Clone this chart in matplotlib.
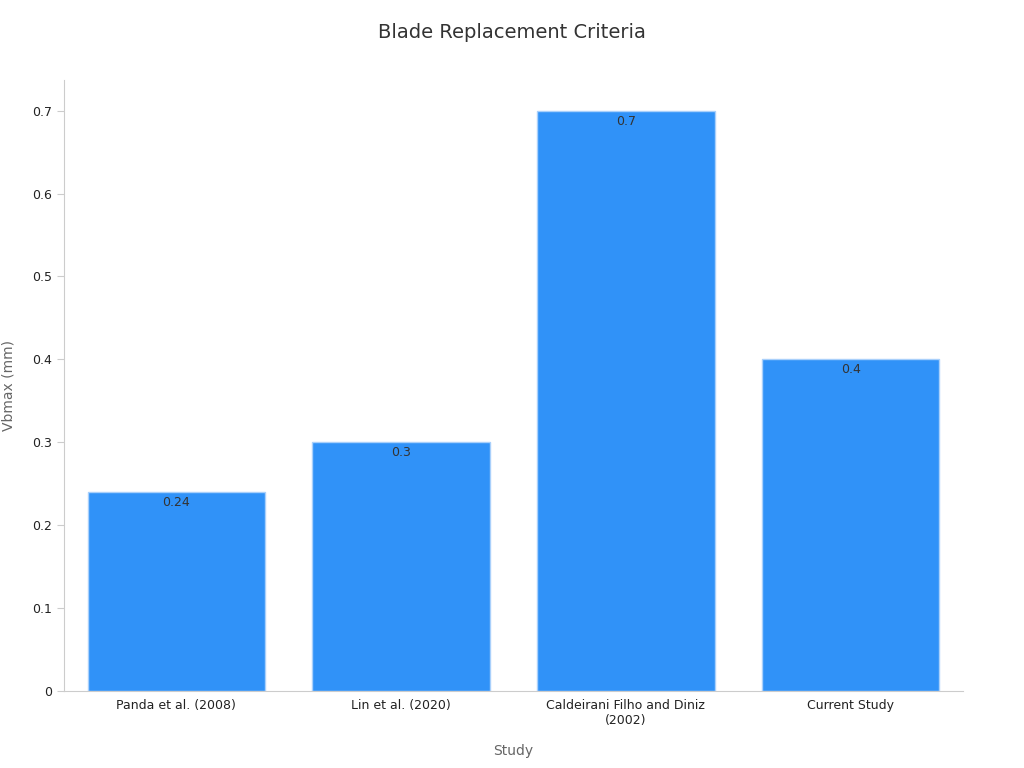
import matplotlib
matplotlib.use("Agg")
import matplotlib.pyplot as plt

studies = ["Panda et al. (2008)", "Lin et al. (2020)", "Caldeirani Filho and Diniz\n(2002)", "Current Study"]
vbmax = [0.24, 0.3, 0.7, 0.4]
value_labels = ["0.24", "0.3", "0.7", "0.4"]

fig = plt.figure(figsize=(10.24, 7.68), dpi=100)
ax = fig.add_axes([0.0625, 0.1003, 0.8779, 0.7956])

x = range(len(studies))
ax.bar(x, vbmax, width=0.79, color="#3092F8", edgecolor="#a9d0fb", linewidth=1)
for xi, v, lab in zip(x, vbmax, value_labels):
    ax.text(xi, v - 0.005, lab, ha="center", va="top", fontsize=9, color="#333333")

ax.set_xlim(-0.5, 3.5)
ax.set_ylim(0, 0.737)
ax.set_xticks(list(x))
ax.set_xticklabels(studies, fontsize=9, color="#222222")
ax.set_yticks([0, 0.1, 0.2, 0.3, 0.4, 0.5, 0.6, 0.7])
ax.set_yticklabels(["0", "0.1", "0.2", "0.3", "0.4", "0.5", "0.6", "0.7"], fontsize=9, color="#222222")
ax.tick_params(axis="x", length=0, pad=6)
ax.tick_params(axis="y", length=5, color="#cccccc")
for s in ["top", "right"]:
    ax.spines[s].set_visible(False)
for s in ["left", "bottom"]:
    ax.spines[s].set_color("#cccccc")

ax.set_xlabel("Study", fontsize=10, color="#666666", labelpad=12)
ax.set_ylabel("Vbmax (mm)", fontsize=10, color="#666666", labelpad=12)
fig.suptitle("Blade Replacement Criteria", fontsize=14, color="#333333", y=0.97)

fig.savefig("out.png", dpi=100)
